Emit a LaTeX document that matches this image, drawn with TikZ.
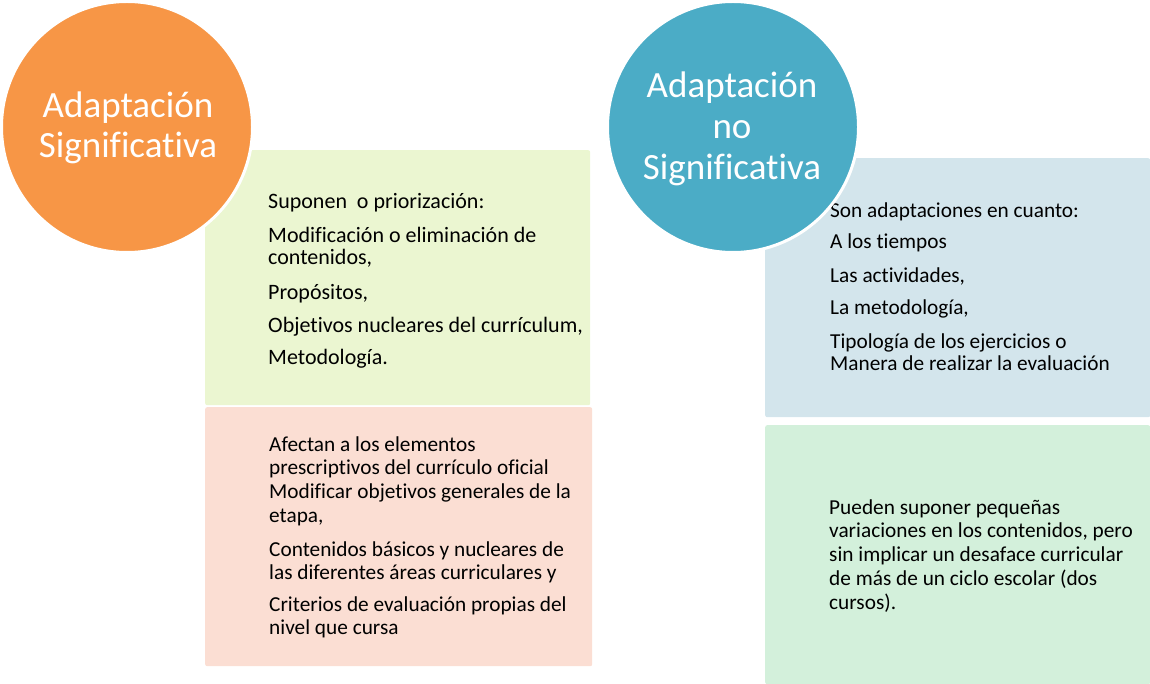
\documentclass[tikz,border=0pt]{standalone}
\usepackage{fontspec}
\setmainfont{Carlito}[Ligatures={NoCommon}]
\definecolor{corange}{HTML}{F79646}
\definecolor{cblue}{HTML}{4BACC6}
\definecolor{bgreen}{HTML}{EBF6D1}
\definecolor{bpink}{HTML}{FBDED3}
\definecolor{bblue}{HTML}{D3E5EC}
\definecolor{bmint}{HTML}{D3F0DB}
\tikzset{
  panel/.style={anchor=north west, inner sep=0pt, rounded corners=2pt, draw=none},
  disc/.style={circle, draw=white, line width=3pt, minimum size=251pt, inner sep=0pt},
  title/.style={text=white, font=\fontsize{37}{44}\selectfont, anchor=base},
  txt/.style={anchor=base west, inner sep=0pt, font=\fontsize{21.3}{24}\selectfont, text=black},
  gtxt/.style={txt, font=\fontsize{22}{24}\selectfont},
}
\begin{document}
\begin{tikzpicture}[x=1pt,y=-1pt]
\useasboundingbox (0,0) rectangle (1150,684);
% left boxes
\node[panel, fill=bgreen, minimum width=385pt, minimum height=255pt] (gbox) at (205,150) {};
\node[panel, fill=bpink, minimum width=387pt, minimum height=259pt] (pbox) at (205,407) {};
% right boxes
\node[panel, fill=bblue, minimum width=385pt, minimum height=259pt] (bbox) at (765,158) {};
\node[panel, fill=bmint, minimum width=385pt, minimum height=259pt] (mbox) at (765,425) {};
% green text
\node[gtxt] (g1) at (268,209) {Suponen\ \ o priorización:};
\node[gtxt] (g2) at (268,243) {Modificación o eliminación de};
\node[gtxt] (g3) at (268,265) {contenidos,};
\node[gtxt] (g4) at (268,299) {Propósitos,};
\node[gtxt] (g5) at (268,332) {Objetivos nucleares del currículum,};
\node[gtxt] (g6) at (268,364) {Metodología.};
% pink text
\node[txt] (p1) at (269,451) {Afectan a los elementos};
\node[txt] (p2) at (269,474) {prescriptivos del currículo oficial};
\node[txt] (p3) at (269,498) {Modificar objetivos generales de la};
\node[txt] (p4) at (269,522) {etapa,};
\node[txt] (p5) at (269,556) {Contenidos básicos y nucleares de};
\node[txt] (p6) at (269,579) {las diferentes áreas curriculares y};
\node[txt] (p7) at (269,611) {Criterios de evaluación propias del};
\node[txt] (p8) at (269,634) {nivel que cursa};
% blue text
\node[txt] (b1) at (830,218) {Son adaptaciones en cuanto:};
\node[txt] (b2) at (830,249) {A los tiempos};
\node[txt] (b3) at (830,283) {Las actividades,};
\node[txt] (b4) at (830,315) {La metodología,};
\node[txt] (b5) at (830,348) {Tipología de los ejercicios o};
\node[txt] (b6) at (830,370) {Manera de realizar la evaluación};
% mint text
\node[txt] (m1) at (829,514) {Pueden suponer pequeñas};
\node[txt] (m2) at (829,537) {variaciones en los contenidos, pero};
\node[txt] (m3) at (829,561) {sin implicar un desaface curricular};
\node[txt] (m4) at (829,585) {de más de un ciclo escolar (dos};
\node[txt] (m5) at (829,609) {cursos).};
% circles
\node[disc, fill=corange] (oc) at (127,127) {};
\node[disc, fill=cblue] (bc) at (733,127) {};
\node[title] (ot1) at (128,118) {Adaptación};
\node[title] (ot2) at (128,158) {Significativa};
\node[title] (bt1) at (732,98) {Adaptación};
\node[title] (bt2) at (732,139) {no};
\node[title] (bt3) at (732,180) {Significativa};
\end{tikzpicture}
\end{document}
